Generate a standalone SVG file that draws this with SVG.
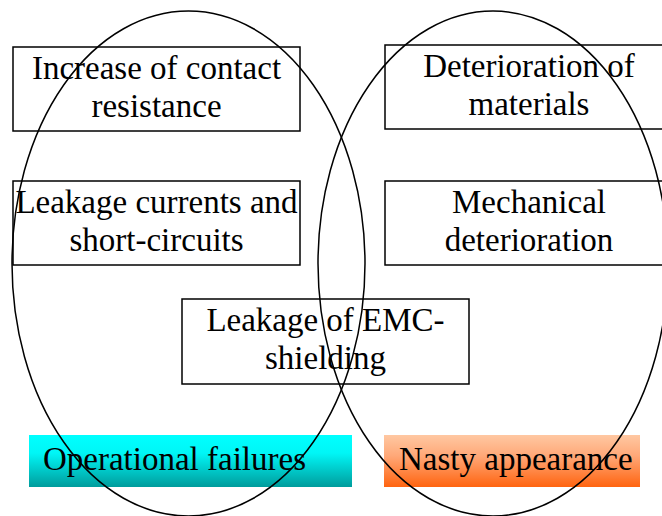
<svg xmlns="http://www.w3.org/2000/svg" width="662" height="516" viewBox="0 0 662 516">
  <defs>
    <linearGradient id="cyanFill" x1="0" y1="0" x2="0" y2="1">
      <stop offset="0" stop-color="#00FFFF"/>
      <stop offset="0.35" stop-color="#00F6F6"/>
      <stop offset="1" stop-color="#009C9C"/>
    </linearGradient>
    <linearGradient id="orangeFill" x1="0" y1="0" x2="0" y2="1">
      <stop offset="0" stop-color="#FFC8A2"/>
      <stop offset="0.4" stop-color="#FFA878"/>
      <stop offset="1" stop-color="#FF6410"/>
    </linearGradient>
    <style>
      .box { fill: #FFFFFF; stroke: #000000; stroke-width: 1.5; }
      .ring { fill: none; stroke: #000000; stroke-width: 1.5; }
      .mid { text-anchor: middle; }
    </style>
  </defs>
  <rect width="662" height="516" fill="#FFFFFF"/>

  <g font-family="Liberation Serif, Times New Roman, DejaVu Serif, serif" font-size="33" fill="#000000">
    <g id="box-contact-resistance">
      <rect class="box" x="13" y="47" width="287" height="84"/>
      <text class="mid" x="156.5" y="79">Increase of contact</text>
      <text class="mid" x="156.5" y="117">resistance</text>
    </g>
    <g id="box-leakage-currents">
      <rect class="box" x="13" y="181" width="287" height="84"/>
      <text class="mid" x="156.5" y="213">Leakage currents and</text>
      <text class="mid" x="156.5" y="251">short-circuits</text>
    </g>
    <g id="box-materials">
      <rect class="box" x="385" y="45" width="288" height="84"/>
      <text class="mid" x="529" y="77">Deterioration of</text>
      <text class="mid" x="529" y="115">materials</text>
    </g>
    <g id="box-mechanical">
      <rect class="box" x="385" y="181" width="288" height="84"/>
      <text class="mid" x="529" y="213">Mechanical</text>
      <text class="mid" x="529" y="251">deterioration</text>
    </g>
    <g id="box-emc">
      <rect class="box" x="182" y="299" width="287" height="85"/>
      <text class="mid" x="325.5" y="331">Leakage of EMC-</text>
      <text class="mid" x="325.5" y="369">shielding</text>
    </g>

    <g id="tag-operational">
      <rect x="29" y="435" width="323" height="52" fill="url(#cyanFill)"/>
      <text x="43" y="470">Operational failures</text>
    </g>
    <g id="tag-appearance">
      <rect x="384" y="435" width="256" height="52" fill="url(#orangeFill)"/>
      <text x="399" y="470">Nasty appearance</text>
    </g>
  </g>

  <g id="sets">
    <ellipse class="ring" cx="188.5" cy="263.5" rx="176.5" ry="252.5"/>
    <ellipse class="ring" cx="493" cy="263.5" rx="175" ry="252.5"/>
  </g>
</svg>
